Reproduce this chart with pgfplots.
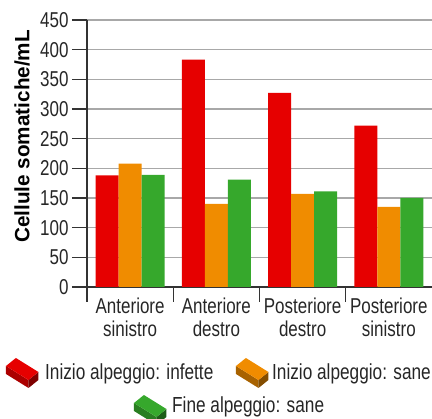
\documentclass[border=0pt]{standalone}
\usepackage{fontspec}
\setmainfont{Liberation Sans}[FakeStretch=0.79]
\newfontfamily\labfont{Liberation Sans}
\usepackage{pgfplots}
\pgfplotsset{compat=1.18}
\definecolor{cred}{HTML}{E60000}
\definecolor{corange}{HTML}{F08C00}
\definecolor{cgreen}{HTML}{36A82C}
\definecolor{axisgray}{HTML}{333333}
\definecolor{gridgray}{HTML}{A8A8A8}
\newcommand\brick[5]{%
 \begin{scope}[shift={(#1pt,#2pt)},x=0.9pt,y=1pt]
 \fill[#4] (0,20)--(25,6)--(25,-2)--(0,12)--cycle;
 \fill[#5] (25,6)--(36,14)--(36,6)--(25,-2)--cycle;
 \fill[#3] (0,20)--(11,28)--(36,14)--(25,6)--cycle;
 \end{scope}}
\begin{document}
\begin{tikzpicture}
\useasboundingbox (-87pt,-132pt) rectangle (345pt,287pt);
\begin{axis}[
  at={(0pt,0pt)}, anchor=south west,
  scale only axis, width=345pt, height=267pt,
  xmin=0.5, xmax=4.5, ymin=0, ymax=450,
  ybar=0pt, bar width=23pt,
  axis x line*=bottom, axis y line*=left,
  axis line style={draw=axisgray, line width=1.2pt, -},
  xtick={1,2,3,4},
  xticklabels={{Anteriore\\sinistro},{Anteriore\\destro},{Posteriore\\destro},{Posteriore\\sinistro}},
  minor xtick={0.5,1.5,2.5,3.5},
  ytick={0,50,...,450},
  tick align=outside,
  major tick length=15pt, minor tick length=15pt,
  every major x tick/.append style={draw=none},
  every minor x tick/.append style={draw=axisgray, line width=1.2pt},
  every major y tick/.append style={draw=axisgray, line width=1.2pt},
  ymajorgrids,
  major grid style={draw=gridgray, line width=1.3pt},
  /pgf/number format/assume math mode=true,
  tick label style={font=\fontsize{21.5}{23}\selectfont, text=black!85},
  x tick label style={align=center, yshift=8pt},
  every axis y label/.style={at={(axis description cs:-0.188,0.564)}, rotate=90, anchor=center},
  ylabel={\labfont\bfseries\fontsize{20.7}{24}\selectfont Cellule somatiche/mL},
]
\addplot[fill=cred, draw=none] coordinates {(1,188) (2,383) (3,327) (4,272)};
\addplot[fill=corange, draw=none] coordinates {(1,208) (2,140) (3,157) (4,135)};
\addplot[fill=cgreen, draw=none] coordinates {(1,189) (2,181) (3,161) (4,150)};
\end{axis}
\brick{-81}{-99}{cred}{cred!75!black}{cred!55!black}
\node[anchor=base west, inner sep=0pt, font=\fontsize{21.8}{23}\selectfont, text=black!85] at (-42pt,-93pt) {Inizio alpeggio: infette};
\brick{149}{-99}{corange}{corange!70!black}{corange!55!black}
\node[anchor=base west, inner sep=0pt, font=\fontsize{21.8}{23}\selectfont, text=black!85] at (185pt,-93pt) {Inizio alpeggio: sane};
\brick{47}{-136}{cgreen}{cgreen!75!black}{cgreen!55!black}
\node[anchor=base west, inner sep=0pt, font=\fontsize{21.8}{23}\selectfont, text=black!85] at (85pt,-126pt) {Fine alpeggio: sane};
\end{tikzpicture}
\end{document}
